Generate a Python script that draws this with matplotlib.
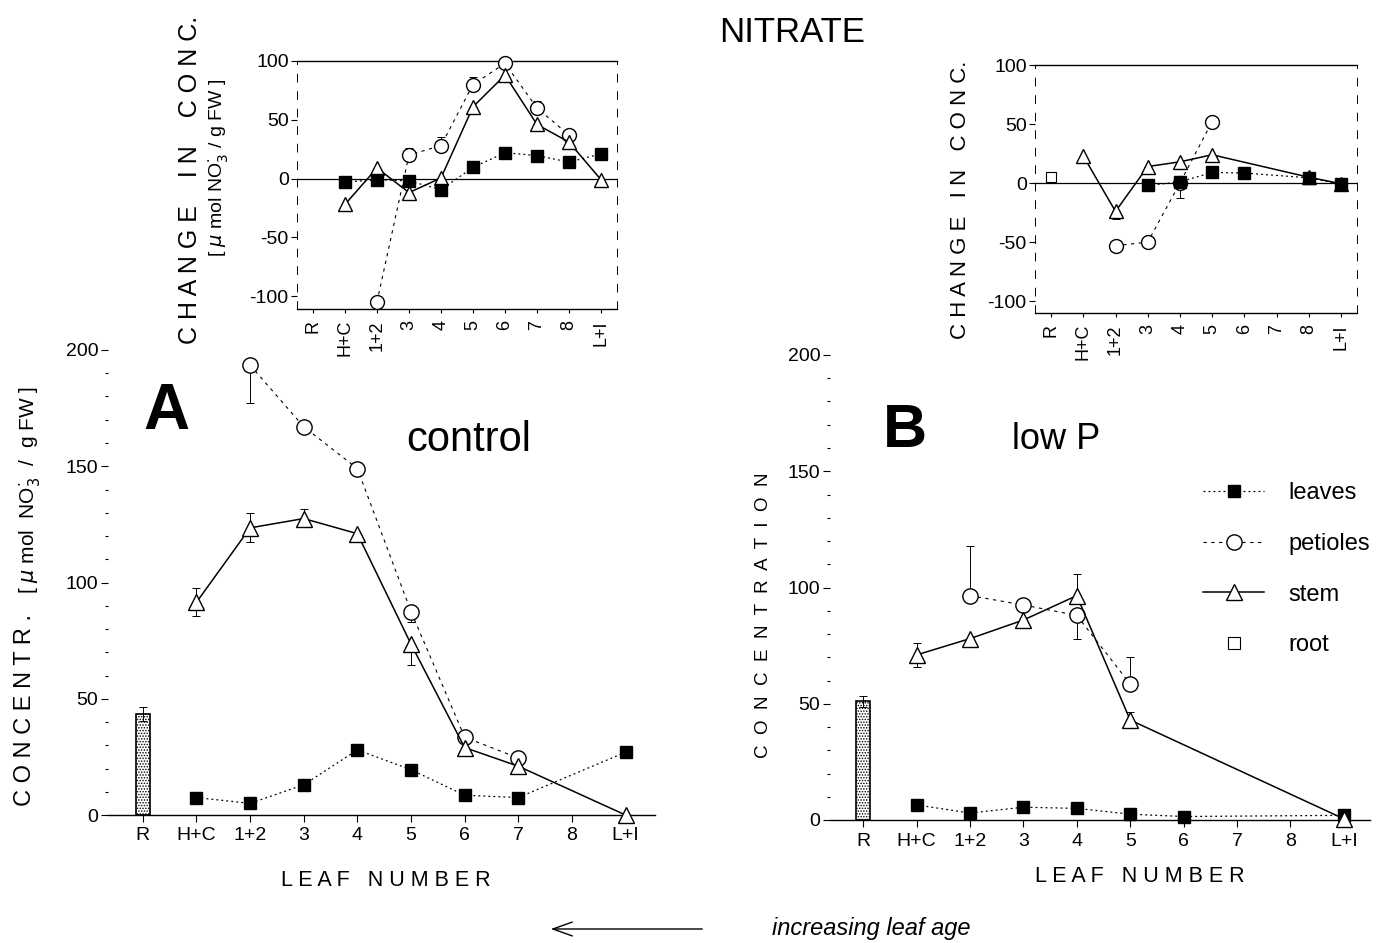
import numpy as np
import matplotlib.pyplot as plt
from matplotlib.lines import Line2D
from matplotlib.ticker import MultipleLocator

plt.rcParams['font.family'] = ['Liberation Sans', 'DejaVu Sans']
plt.rcParams['axes.unicode_minus'] = False
plt.rcParams['hatch.linewidth'] = 0.7

nan = np.nan
cats = ['R', 'H+C', '1+2', '3', '4', '5', '6', '7', '8', 'L+I']

# panel A, control  (error bars: lower / upper)
a_leaves = [nan, 7.5, 5, 13, 28, 19.5, 8.5, 7.5, nan, 27]
a_pet = [nan, nan, 193.5, 167, 149, 87.5, 33.5, 24.5, nan, nan]
a_pet_lo = [0, 0, 16.5, 0, 3, 4.5, 0, 0, 0, 0]
a_pet_hi = [0, 0, 0, 0, 3, 0, 0, 0, 0, 0]
a_stem = [nan, 91.5, 123.5, 127.5, 121, 73.5, 29, 21, nan, 0]
a_stem_lo = [0, 6, 6, 3.5, 0, 9, 0, 0, 0, 0]
a_stem_hi = [0, 6, 6.5, 4, 0, 0, 0, 0, 0, 0]
a_root, a_root_err = 43.5, 3

# panel B, low P
b_leaves = [nan, 6.5, 3, 5.5, 5, 2.5, 1.5, nan, nan, 2]
b_pet = [nan, nan, 96.5, 92.5, 88, 58.5, nan, nan, nan, nan]
b_pet_lo = [0, 0, 0, 0, 10, 0, 0, 0, 0, 0]
b_pet_hi = [0, 0, 21.5, 0, 0, 11.5, 0, 0, 0, 0]
b_stem = [nan, 71, 78, 86, 96.5, 43, nan, nan, nan, 0.5]
b_stem_lo = [0, 5, 0, 0, 0, 0, 0, 0, 0, 0]
b_stem_hi = [0, 5, 0, 0, 9.5, 3.5, 0, 0, 0, 0]
b_root, b_root_err = 51, 2.5

# insets: change in conc.
ca_leaves = [nan, -3, -1, -2, -9.5, 9.5, 22, 19.5, 14, 21]
ca_pet = [nan, nan, -105, 20, 28, 80, 98, 60, 37, nan]
ca_pet_lo = [0, 0, 0, 0, 0, 0, 0, 0, 0, 0]
ca_pet_hi = [0, 0, 0, 6, 7, 6, 0, 6, 4, 0]
ca_stem = [nan, -22, 9, -12, 0.5, 61, 88, 46, 31, -1]
ca_stem_lo = [0, 6, 0, 5, 0, 4, 0, 4, 4, 0]
ca_stem_hi = [0, 0, 0, 0, 0, 0, 0, 0, 0, 0]

cb_root = [5, nan, nan, nan, nan, nan, nan, nan, nan, nan]
cb_leaves = [nan, nan, nan, -2, 1, 9, 8.5, nan, 4.5, -1]
cb_pet = [nan, nan, -53, -50, 0, 52, nan, nan, nan, nan]
cb_pet_lo = [0, 0, 0, 0, 13, 0, 0, 0, 0, 0]
cb_pet_hi = [0, 0, 0, 0, 0, 0, 0, 0, 0, 0]
cb_stem = [nan, 23, -24, 14, 18, 24, nan, nan, 5, -0.5]
cb_stem_lo = [0, 0, 6, 3, 3, 0, 0, 0, 0, 0]
cb_stem_hi = [0, 0, 0, 0, 0, 0, 0, 0, 0, 0]

W, H = 1395, 943
fig = plt.figure(figsize=(W / 100, H / 100), dpi=100)


def px(x, y):
    return x / W, 1 - y / H


leaves_st = dict(color='k', ls=(0, (1.5, 2.5)), lw=0.9, marker='s', ms=8, mfc='k', mec='k')
pet_st = dict(color='k', ls=(0, (3, 4)), lw=0.8, marker='o', ms=11, mfc='white', mec='k', mew=1)
stem_st = dict(color='k', ls='-', lw=1.1, marker='^', ms=11, mfc='white', mec='k', mew=1)
small = dict(leaves=dict(leaves_st, ms=9), pet=dict(pet_st, ms=10), stem=dict(stem_st, ms=10))


def series(ax, vals, st, lo=None, hi=None):
    x = np.arange(len(cats))
    v = np.array(vals, float)
    m = ~np.isnan(v)
    if lo is not None:
        lo = np.array(lo, float)
        hi = np.array(hi, float)
        for e, side in ((lo, 0), (hi, 1)):
            k = m & (e > 0)
            if k.any():
                yerr = np.zeros((2, k.sum()))
                yerr[side] = e[k]
                ax.errorbar(x[k], v[k], yerr=yerr, fmt='none', ecolor='k',
                            elinewidth=0.7, capsize=3, capthick=0.7, zorder=2,
                            clip_on=False)
    ax.plot(x[m], v[m], clip_on=False, zorder=3, **st)


def main_axes(rect, xlim):
    ax = fig.add_axes(rect)
    ax.set_facecolor('none')
    ax.set_xlim(*xlim)
    ax.set_ylim(0, 200)
    for s in ['top', 'right', 'left']:
        ax.spines[s].set_visible(False)
    ax.spines['bottom'].set_linewidth(1.0)
    ax.set_xticks(range(len(cats)))
    ax.set_xticklabels(cats, fontsize=14)
    ax.set_yticks([0, 50, 100, 150, 200])
    ax.yaxis.set_minor_locator(MultipleLocator(10))
    ax.tick_params(axis='y', which='major', length=5, width=0.8, labelsize=14, pad=2)
    ax.tick_params(axis='y', which='minor', length=2, width=0.8)
    ax.tick_params(axis='x', length=5, width=0.8, pad=4)
    return ax


def inset_axes(rect, ylim):
    ax = fig.add_axes(rect)
    ax.set_facecolor('none')
    ax.set_xlim(-0.5, 9.5)
    ax.set_ylim(*ylim)
    ax.axhline(0, color='k', lw=0.9, zorder=1)
    for s in ['top', 'bottom']:
        ax.spines[s].set_linewidth(1.0)
    for s in ['left', 'right']:
        ax.spines[s].set_linestyle((0, (8, 10)))
        ax.spines[s].set_linewidth(0.7)
    ax.set_yticks([-100, -50, 0, 50, 100])
    ax.set_xticks(range(len(cats)))
    ax.set_xticklabels(cats, rotation=90, fontsize=13)
    ax.tick_params(axis='y', length=4, width=0.8, labelsize=14, pad=2)
    ax.tick_params(axis='x', length=3, width=0.8, pad=5)
    return ax


# ---- panel A
axA = main_axes([108 / W, 1 - 815 / H, 547 / W, 465 / H], (-0.65, 9.55))
axA.bar(0, a_root, width=0.25, color='white', edgecolor='k', hatch='......', lw=1.2,
        yerr=a_root_err, capsize=3, error_kw=dict(elinewidth=0.7, capthick=0.7))
series(axA, a_leaves, leaves_st)
series(axA, a_pet, pet_st, a_pet_lo, a_pet_hi)
series(axA, a_stem, stem_st, a_stem_lo, a_stem_hi)

# ---- panel B
axB = main_axes([830 / W, 1 - 820 / H, 540 / W, 465 / H], (-0.62, 9.49))
axB.bar(0, b_root, width=0.25, color='white', edgecolor='k', hatch='......', lw=1.2,
        yerr=b_root_err, capsize=3, error_kw=dict(elinewidth=0.7, capthick=0.7))
series(axB, b_leaves, leaves_st)
series(axB, b_pet, pet_st, b_pet_lo, b_pet_hi)
series(axB, b_stem, stem_st, b_stem_lo, b_stem_hi)

# ---- insets
inA = inset_axes([297 / W, 1 - 309 / H, 320 / W, 248 / H], (-111, 100))
series(inA, ca_pet, small['pet'], ca_pet_lo, ca_pet_hi)
series(inA, ca_stem, small['stem'], ca_stem_lo, ca_stem_hi)
series(inA, ca_leaves, small['leaves'])

inB = inset_axes([1035 / W, 1 - 313 / H, 322 / W, 248 / H], (-110, 100))
series(inB, cb_root, dict(ls='none', marker='s', ms=7, mfc='white', mec='k', mew=0.8))
series(inB, cb_pet, small['pet'], cb_pet_lo, cb_pet_hi)
series(inB, cb_stem, small['stem'], cb_stem_lo, cb_stem_hi)
series(inB, cb_leaves, small['leaves'])

# ---- legend
handles = [
    Line2D([], [], **leaves_st),
    Line2D([], [], **pet_st),
    Line2D([], [], **stem_st),
    Line2D([], [], ls='none', marker='s', ms=9, mfc='white', mec='k', mew=0.8),
]
fig.legend(handles, ['leaves', 'petioles', 'stem', 'root'], loc='upper left',
           bbox_to_anchor=px(1203, 482), frameon=False, fontsize=17,
           borderpad=0, borderaxespad=0,
           handlelength=2.6, labelspacing=1.22, handletextpad=1.0)

# ---- texts
fig.text(*px(792, 32), 'NITRATE', fontsize=25, ha='center', va='center')
fig.text(*px(166, 412), 'A', fontsize=46, fontweight='bold', ha='center', va='center')
fig.text(*px(469, 440), 'control', fontsize=30, ha='center', va='center')
fig.text(*px(905, 431), 'B', fontsize=44, fontweight='bold', ha='center', va='center')
fig.text(*px(1056, 440), 'low P', fontsize=26, ha='center', va='center')

leaf_lbl = 'L E A F   N U M B E R'
fig.text(*px(386, 880), leaf_lbl, fontsize=15.5, ha='center', va='center')
fig.text(*px(1140, 877), leaf_lbl, fontsize=15.5, ha='center', va='center')

fig.text(*px(190, 180), 'C H A N G E    I N    C O N C.', fontsize=18,
         rotation=90, ha='center', va='center')
fig.text(*px(219, 168), r'[ $\mu$ mol NO$_3^{\cdot}$ / g FW ]', fontsize=14,
         rotation=90, ha='center', va='center')
fig.text(*px(960, 200), 'C H A N G E   I N   C O N C.', fontsize=16,
         rotation=90, ha='center', va='center')

fig.text(*px(25, 710), 'C O N C E N T R .', fontsize=17,
         rotation=90, ha='center', va='center')
fig.text(*px(30, 490), r'[ $\mu$ mol  NO$_3^{\cdot}$  /  g FW ]', fontsize=15,
         rotation=90, ha='center', va='center')
fig.text(*px(763, 615), 'C  O  N  C  E  N  T  R  A  T  I  O  N', fontsize=13.5,
         rotation=90, ha='center', va='center')

fig.add_artist(plt.Annotation('', xy=px(548, 929), xytext=px(705, 929),
                              xycoords='figure fraction', textcoords='figure fraction',
                              arrowprops=dict(arrowstyle='->,head_length=1.4,head_width=0.5',
                                              lw=1.0, color='k')))
fig.text(*px(772, 929), 'increasing leaf age', fontsize=17, style='italic',
         ha='left', va='center')

fig.savefig('out.png', dpi=100, facecolor='white')
